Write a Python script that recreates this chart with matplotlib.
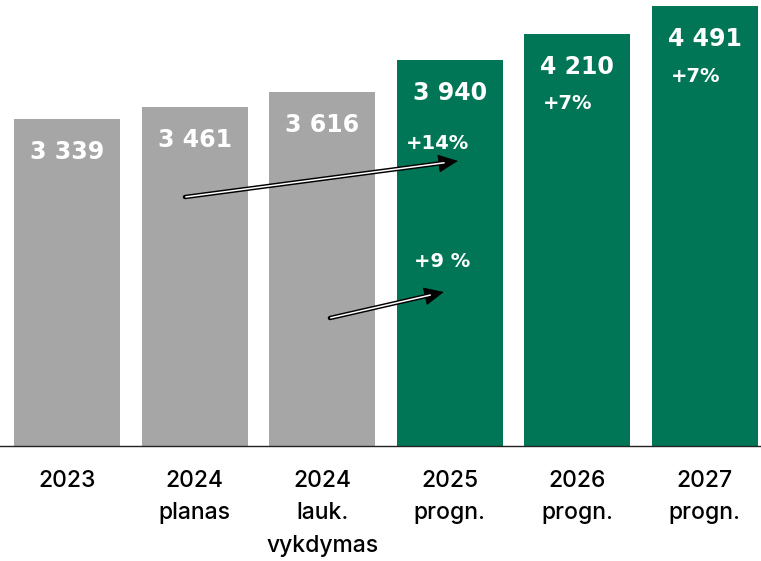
import matplotlib.pyplot as plt

# data
categories = ['2023', '2024\nplanas', '2024\nlauk.\nvykdymas', '2025\nprogn.', '2026\nprogn.', '2027\nprogn.']
values = [3339, 3461, 3616, 3940, 4210, 4491]
value_labels = ['3 339', '3 461', '3 616', '3 940', '4 210', '4 491']
growth_labels = {4: '+7%', 5: '+7%'}

gray = '#A6A6A6'
green = '#007656'
colors = [gray, gray, gray, green, green, green]

fig = plt.figure(figsize=(7.61, 5.61), dpi=100)
ax = fig.add_axes([0, 0.205, 1, 0.795])

x = list(range(len(values)))
ax.bar(x, values, width=0.83, color=colors, zorder=2)
ax.set_xlim(-0.525, 5.44)
ax.set_ylim(0, 4552)

for s in ['top', 'right', 'left']:
    ax.spines[s].set_visible(False)
ax.spines['bottom'].set_color('#222222')
ax.spines['bottom'].set_linewidth(1.0)
ax.set_yticks([])

ax.set_xticks(x)
ax.set_xticklabels(categories, fontsize=16.5, linespacing=1.64, fontweight='medium',
                   family=['Inter', 'DejaVu Sans'])
ax.tick_params(axis='x', length=0, pad=17)

# value labels inside bars
for i, (v, lab) in enumerate(zip(values, value_labels)):
    ax.annotate(lab, (i, v), xytext=(0, -24), textcoords='offset points',
                ha='center', va='center', color='white', fontsize=17,
                fontweight='bold', family='DejaVu Sans')
    if i in growth_labels:
        ax.annotate(growth_labels[i], (i, v), xytext=(-7, -50.5),
                    textcoords='offset points', ha='center', va='center',
                    color='white', fontsize=14, fontweight='bold',
                    family='DejaVu Sans')

# growth arrows (double line with filled head)
arrows = [((0.925, 2541), (3.064, 2909), '+14%', (2.908, 3092)),
          ((2.061, 1306), (2.954, 1572), '+9 %', (2.939, 1878))]
for start, end, txt, tpos in arrows:
    ax.annotate('', xy=end, xytext=start,
                arrowprops=dict(arrowstyle='-', color='black', lw=3.2,
                                shrinkA=0, shrinkB=10), zorder=4)
    ax.annotate('', xy=end, xytext=start,
                arrowprops=dict(arrowstyle='-', color='white', lw=1.1,
                                shrinkA=0.6, shrinkB=10), zorder=5)
    ax.annotate('', xy=end, xytext=start,
                arrowprops=dict(arrowstyle='-|>,head_length=0.65,head_width=0.3',
                                mutation_scale=20, color='black', lw=0.6,
                                shrinkA=0, shrinkB=0), zorder=3)
    ax.text(tpos[0], tpos[1], txt, ha='center', va='center', color='white',
            fontsize=14, fontweight='bold', family='DejaVu Sans', zorder=6)

fig.savefig('out.png', dpi=100)
